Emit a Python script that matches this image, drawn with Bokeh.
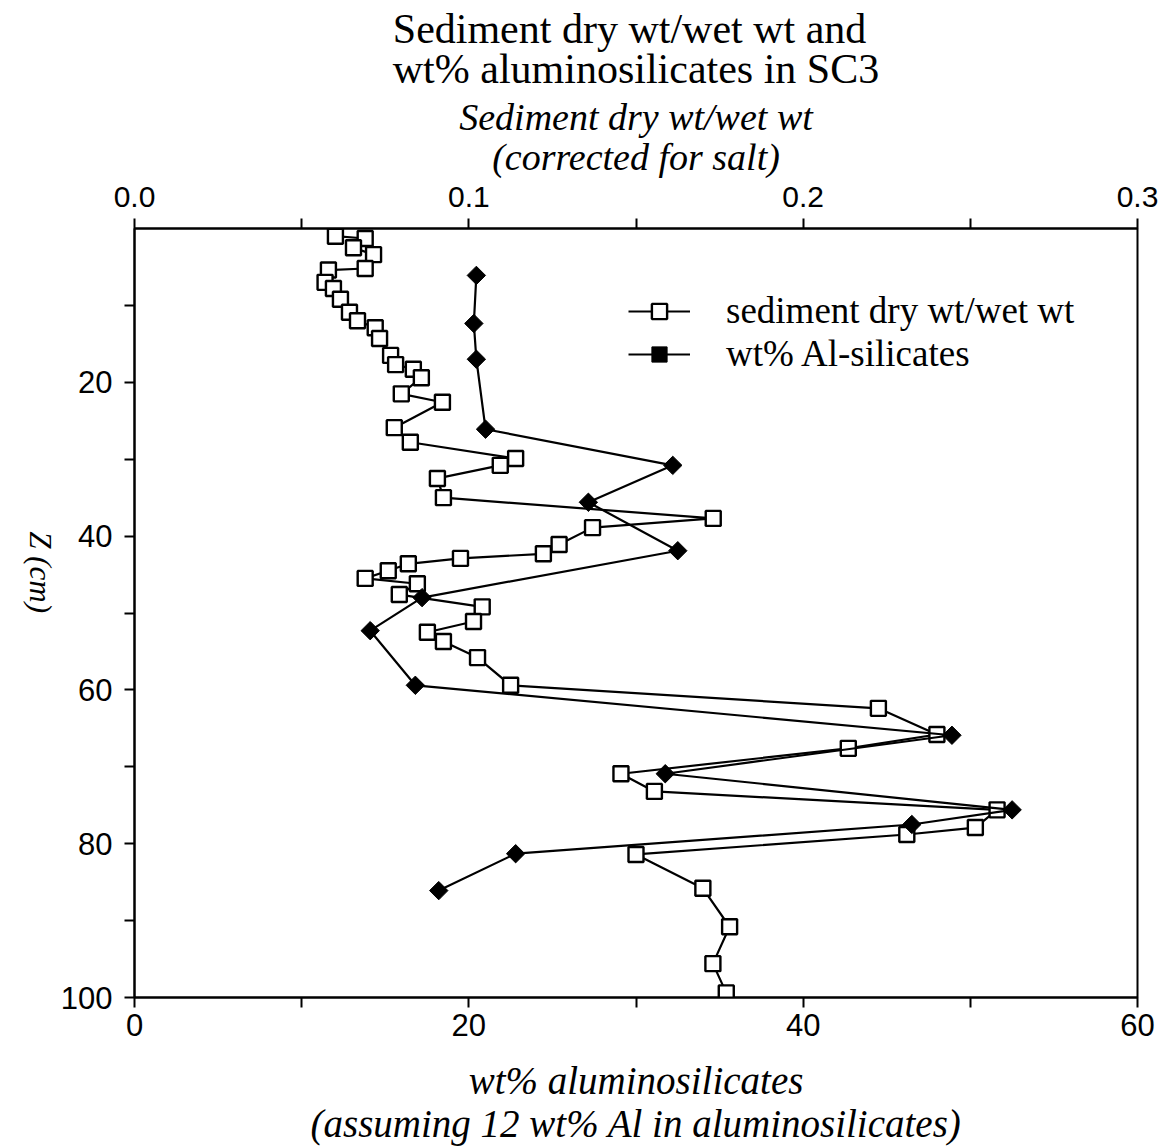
from bokeh.plotting import figure
from bokeh.models import (Range1d, LinearAxis, FixedTicker, PrintfTickFormatter,
                          Title, Legend, LegendItem)
from bokeh.embed import file_html
from bokeh.resources import INLINE
import math

# ---- data ----
sed_depth = [1.0, 1.3, 2.5, 3.4, 5.2, 5.4, 7.0, 7.8, 9.2, 10.9, 12.0, 12.9, 14.3, 16.5,
             17.7, 18.3, 19.4, 21.5, 22.6, 25.9, 27.8, 29.9, 30.8, 32.5, 35.0, 37.7,
             38.9, 41.1, 42.3, 42.9, 43.6, 44.5, 45.5, 46.2, 47.6, 49.2, 51.1, 52.5,
             53.7, 55.8, 59.4, 62.4, 65.8, 67.6, 70.9, 73.2, 75.6, 77.9, 78.8, 81.4,
             85.8, 90.8, 95.6, 99.4]
sed_dry = [0.0601, 0.069, 0.0655, 0.0715, 0.069, 0.058, 0.057, 0.0595, 0.0616, 0.0643,
           0.0667, 0.072, 0.0733, 0.0766, 0.0781, 0.0834, 0.0858, 0.0798, 0.0921, 0.0777,
           0.0825, 0.114, 0.1094, 0.0906, 0.0924, 0.1731, 0.137, 0.127, 0.1223, 0.0975,
           0.0819, 0.0759, 0.069, 0.0846, 0.0792, 0.104, 0.1014, 0.0876, 0.0924, 0.1026,
           0.1125, 0.2225, 0.240, 0.2135, 0.1455, 0.1555, 0.258, 0.2515, 0.231, 0.150,
           0.170, 0.178, 0.173, 0.177]
al_depth = [6.1, 12.35, 17.0, 26.1, 30.8, 35.6, 41.9, 48.0, 52.3, 59.4, 65.9, 70.9,
            75.6, 77.5, 81.3, 86.1]
al_wt = [20.45, 20.3, 20.45, 21.0, 32.2, 27.15, 32.5, 17.2, 14.1, 16.8, 48.9, 31.75,
         52.5, 46.5, 22.8, 18.2]

bottom_ticks = [0, 20, 40, 60]
bottom_minor = [10, 30, 50]
top_ticks = [0.0, 0.1, 0.2, 0.3]
top_minor = [0.05, 0.15, 0.25]
left_ticks = [20, 40, 60, 80, 100]
left_minor = [10, 30, 50, 70, 90]

title_text = "Sediment dry wt/wet wt and\nwt% aluminosilicates in SC3"
top_label = "Sediment dry wt/wet wt\n(corrected for salt)"
bottom_label = "wt% aluminosilicates\n(assuming 12 wt% Al in aluminosilicates)"
y_label = "Z (cm)"
legend_labels = ["sediment dry wt/wet wt", "wt% Al-silicates"]

SERIF = "Liberation Serif"
SANS = "Liberation Sans"

p = figure(width=1163, height=1147, output_backend="svg", toolbar_location=None,
           x_range=Range1d(0, 60), y_range=Range1d(100, 0),
           x_axis_location=None, y_axis_location=None,
           min_border_left=134, min_border_right=26, min_border_top=228,
           min_border_bottom=150)
p.extra_x_ranges = {"dry": Range1d(0, 0.3)}
p.grid.visible = False
p.outline_line_color = "black"
p.outline_line_width = 2
p.background_fill_color = "white"
p.border_fill_color = "white"


def style_axis(ax, size="30px", font=SANS):
    ax.axis_line_width = 2
    ax.axis_line_color = "black"
    ax.major_tick_line_width = 2
    ax.minor_tick_line_width = 2
    ax.major_tick_in = 0
    ax.major_tick_out = 10
    ax.minor_tick_in = 0
    ax.minor_tick_out = 10
    ax.major_label_text_font = font
    ax.major_label_text_font_size = size
    ax.major_label_text_color = "black"
    ax.major_label_standoff = 8
    ax.axis_label_text_font = SERIF
    ax.axis_label_text_font_style = "italic"
    ax.axis_label_text_font_size = "38px"
    ax.axis_label_text_color = "black"
    ax.axis_label_text_line_height = 0.93


bax = LinearAxis(ticker=FixedTicker(ticks=bottom_ticks, minor_ticks=bottom_minor),
                 axis_label=bottom_label)
style_axis(bax, "31px")
bax.major_label_standoff = 6
bax.axis_label_standoff = 20
bax.axis_label_text_font_size = "39px"
bax.axis_label_text_line_height = 1.0
p.add_layout(bax, "below")

tax = LinearAxis(x_range_name="dry",
                 ticker=FixedTicker(ticks=top_ticks, minor_ticks=top_minor),
                 formatter=PrintfTickFormatter(format="%.1f"), axis_label=top_label)
style_axis(tax, "30px")
tax.major_label_standoff = 12
tax.axis_label_standoff = 6
p.add_layout(tax, "above")

lax = LinearAxis(ticker=FixedTicker(ticks=left_ticks, minor_ticks=left_minor),
                 axis_label=y_label)
style_axis(lax, "31px")
lax.major_label_standoff = 12
lax.axis_label_text_font_size = "31px"
lax.axis_label_standoff = 17
if "axis_label_orientation" in lax.properties():
    lax.axis_label_orientation = -math.pi / 2
p.add_layout(lax, "left")

p.add_layout(Title(text=title_text, align="center", text_font=SERIF,
                   text_font_size="42px", text_font_style="normal",
                   text_color="black", text_line_height=0.88, standoff=2), "above")

# ---- series ----
l1 = p.line(sed_dry, sed_depth, x_range_name="dry", line_color="black", line_width=2.2)
s1 = p.scatter(sed_dry, sed_depth, x_range_name="dry", marker="square", size=15,
               fill_color="white", line_color="black", line_width=2.4)
l2 = p.line(al_wt, al_depth, line_color="black", line_width=2.2)
s2 = p.scatter(al_wt, al_depth, marker="square", angle=math.pi / 4, size=13,
               fill_color="black", line_color="black", line_width=1)

legend = Legend(items=[LegendItem(label=legend_labels[0], renderers=[l1, s1]),
                       LegendItem(label=legend_labels[1], renderers=[l2, s2])],
                location=(494, 622), glyph_width=62, glyph_height=38, spacing=0,
                label_standoff=36, padding=0, margin=0, border_line_color=None,
                background_fill_alpha=0, label_text_font=SERIF,
                label_text_font_size="37px", label_text_line_height=0.9,
                label_text_color="black")
p.add_layout(legend)

open("out.html", "w").write(file_html(p, INLINE))
